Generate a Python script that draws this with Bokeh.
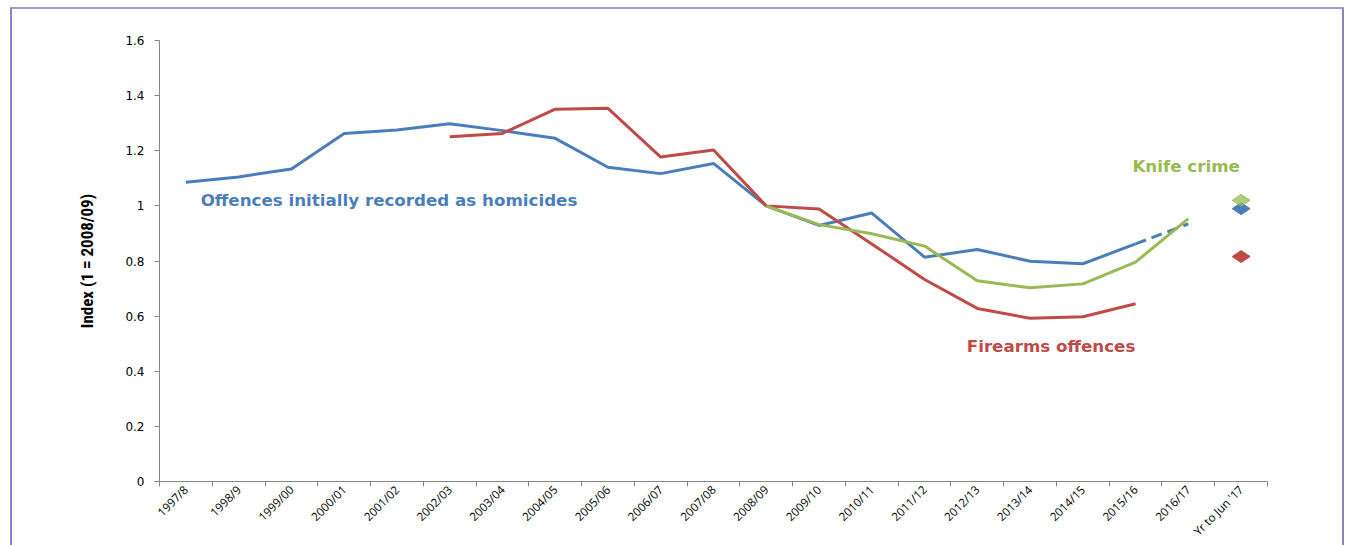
import math
from bokeh.plotting import figure
from bokeh.models import FixedTicker, Range1d
from bokeh.core.properties import value
from bokeh.embed import file_html
from bokeh.resources import INLINE

# ---------------- data ----------------
categories = ["1997/8", "1998/9", "1999/00", "2000/01", "2001/02", "2002/03", "2003/04",
              "2004/05", "2005/06", "2006/07", "2007/08", "2008/09", "2009/10", "2010/11",
              "2011/12", "2012/13", "2013/14", "2014/15", "2015/16", "2016/17", "Yr to Jun '17"]

homicides = [1.086, 1.105, 1.134, 1.263, 1.275, 1.298, 1.273, 1.245, 1.140, 1.117, 1.154,
             1.000, 0.929, 0.974, 0.814, 0.842, 0.799, 0.790, 0.862, 0.935, 0.990]
firearms = [None, None, None, None, None, 1.251, 1.263, 1.351, 1.354, 1.177, 1.203,
            1.000, 0.989, 0.862, 0.733, 0.628, 0.592, 0.598, 0.645, None, 0.816]
knife = [None, None, None, None, None, None, None, None, None, None, None,
         1.000, 0.932, 0.899, 0.854, 0.728, 0.703, 0.717, 0.796, 0.954, 1.020]

y_ticks = [0, 0.2, 0.4, 0.6, 0.8, 1, 1.2, 1.4, 1.6]
y_tick_labels = ["0", "0.2", "0.4", "0.6", "0.8", "1", "1.2", "1.4", "1.6"]

BLUE = "#4A7EBB"
RED = "#BE4B48"
GREEN = "#98B954"

n = len(categories)
xs = [i + 0.5 for i in range(n)]

p = figure(width=1334, height=538, output_backend="svg", toolbar_location=None,
           x_range=Range1d(0, n), y_range=Range1d(0, 1.6),
           min_border_left=147, min_border_right=79, min_border_top=31, min_border_bottom=66)
p.styles = {"border-left": "2px solid #8F7FC6", "border-top": "2px solid #A79BD2",
            "border-right": "2px solid #8F7FC6", "margin-left": "10px", "margin-top": "7px"}
p.outline_line_color = None
p.grid.visible = False
p.background_fill_color = "white"

# x axis
xa = p.xaxis[0]
xa.ticker = FixedTicker(ticks=xs, minor_ticks=list(range(n + 1)))
xa.major_label_overrides = {x: c for x, c in zip(xs, categories)}
xa.major_label_orientation = math.pi / 4
xa.major_tick_out = 0
xa.major_tick_in = 0
xa.minor_tick_out = 5
xa.minor_tick_in = 0
xa.minor_tick_line_color = "#868686"
xa.axis_line_color = "#868686"
xa.major_label_text_font = "Open Sans"
xa.major_label_text_font_size = "11.6px"
xa.major_label_text_color = "#000000"
xa.major_label_standoff = 1

# y axis
ya = p.yaxis[0]
ya.ticker = FixedTicker(ticks=y_ticks, minor_ticks=[])
ya.major_label_overrides = {t: l for t, l in zip(y_ticks, y_tick_labels)}
ya.major_tick_out = 5
ya.major_tick_in = 0
ya.major_tick_line_color = "#868686"
ya.axis_line_color = "#868686"
ya.major_label_text_font = "DejaVu Sans"
ya.major_label_text_font_size = "12px"
ya.major_label_text_color = "#000000"
ya.major_label_standoff = 10
ya.axis_label = "Index (1 = 2008/09)"
ya.axis_label_text_font = "Roboto Condensed, DejaVu Sans Condensed, Roboto"
ya.axis_label_text_font_style = "bold"
ya.axis_label_text_font_size = "17px"
ya.axis_label_text_color = "#000000"
ya.axis_label_standoff = 25

# ---------------- lines ----------------
def seg(vals, a, b):
    return [xs[i] for i in range(a, b + 1) if vals[i] is not None], \
           [vals[i] for i in range(a, b + 1) if vals[i] is not None]

hx, hy = seg(homicides, 0, 18)
p.line(hx, hy, line_color=BLUE, line_width=3)
hx2, hy2 = seg(homicides, 18, 19)
p.line(hx2, hy2, line_color=BLUE, line_width=3, line_dash="11 6")

fx, fy = seg(firearms, 5, 18)
p.line(fx, fy, line_color=RED, line_width=3)

kx, ky = seg(knife, 11, 19)
p.line(kx, ky, line_color=GREEN, line_width=3)

# latest-year diamonds (wider than tall)
p.scatter([xs[20]], [homicides[20]], marker="diamond", size=18, angle=math.pi / 2,
          fill_color=BLUE, line_color=BLUE)
p.scatter([xs[20]], [firearms[20]], marker="diamond", size=18, angle=math.pi / 2,
          fill_color=RED, line_color=RED)
p.scatter([xs[20]], [knife[20]], marker="diamond", size=18, angle=math.pi / 2,
          fill_color=GREEN, line_color=GREEN, fill_alpha=0.75, line_alpha=0.75)

# series labels
lab_font = value("DejaVu Sans")
p.text(x=[0.78], y=[1.02], text=["Offences initially recorded as homicides"],
       text_color=BLUE, text_font=lab_font, text_font_style="bold",
       text_font_size="16.7px", text_baseline="middle", text_align="left")
p.text(x=[15.3], y=[0.492], text=["Firearms offences"],
       text_color=RED, text_font=lab_font, text_font_style="bold",
       text_font_size="16.7px", text_baseline="middle", text_align="left")
p.text(x=[18.44], y=[1.144], text=["Knife crime"],
       text_color=GREEN, text_font=lab_font, text_font_style="bold",
       text_font_size="16.7px", text_baseline="middle", text_align="left")

open("out.html", "w").write(file_html(p, INLINE))
